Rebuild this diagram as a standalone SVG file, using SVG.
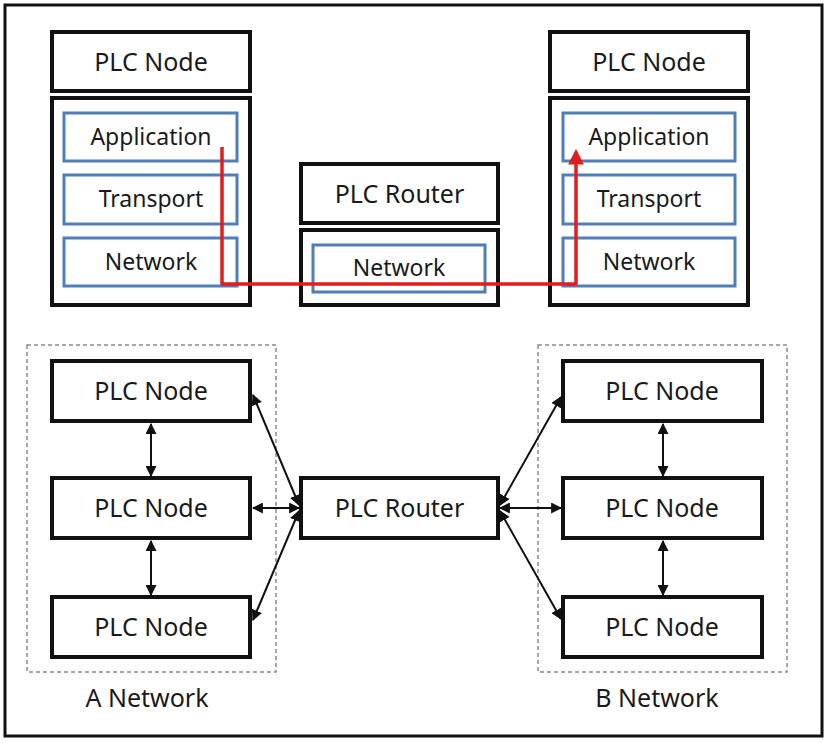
<svg xmlns="http://www.w3.org/2000/svg" width="827" height="743" viewBox="0 0 827 743">
<style>
.box{fill:#fff;stroke:#111;stroke-width:4}
.layer{fill:#fff;stroke:#4f7fb8;stroke-width:3}
.t{font-family:"Noto Sans","Open Sans",sans-serif;font-size:25px;fill:#1a1a1a;text-anchor:middle}
.tl{font-family:"Noto Sans","Open Sans",sans-serif;font-size:23px;fill:#1a1a1a;text-anchor:middle}
.dash{fill:none;stroke:#8a8a8a;stroke-width:1.5;stroke-dasharray:4 3}
.c{fill:none;stroke:#111;stroke-width:2;marker-start:url(#ah);marker-end:url(#ah)}
</style>
<defs>
<marker id="ah" viewBox="0 0 10 10" refX="9" refY="5" markerWidth="5.5" markerHeight="5.5" orient="auto-start-reverse">
<path d="M0,0 L10,5 L0,10 Z" fill="#111"/>
</marker>
<marker id="rh" viewBox="0 0 10 10" refX="8" refY="5" markerWidth="4.5" markerHeight="4.5" orient="auto">
<path d="M0,0 L10,5 L0,10 Z" fill="#e01e1e"/>
</marker>
</defs>
<rect x="0" y="0" width="827" height="743" fill="#fff"/>
<rect x="5" y="5" width="817" height="731" fill="none" stroke="#111" stroke-width="3"/>

<g id="top-node-left">
<rect class="box" x="52" y="32" width="198" height="59"/>
<text class="t" x="151" y="71">PLC Node</text>
<rect class="box" x="52" y="98" width="198" height="207"/>
<rect class="layer" x="64" y="113" width="173" height="48"/>
<text class="tl" x="151" y="145">Application</text>
<rect class="layer" x="64" y="175" width="173" height="49"/>
<text class="tl" x="151" y="207">Transport</text>
<rect class="layer" x="64" y="238" width="173" height="48"/>
<text class="tl" x="151" y="270">Network</text>
</g>

<g id="top-router">
<rect class="box" x="301" y="164" width="197" height="59"/>
<text class="t" x="399.5" y="203">PLC Router</text>
<rect class="box" x="301" y="230" width="197" height="75"/>
<rect class="layer" x="313" y="245" width="172" height="47"/>
<text class="tl" x="399" y="276">Network</text>
</g>

<g id="top-node-right">
<rect class="box" x="550" y="32" width="198" height="59"/>
<text class="t" x="649" y="71">PLC Node</text>
<rect class="box" x="550" y="98" width="198" height="207"/>
<rect class="layer" x="563" y="113" width="172" height="48"/>
<text class="tl" x="649" y="145">Application</text>
<rect class="layer" x="563" y="175" width="172" height="49"/>
<text class="tl" x="649" y="207">Transport</text>
<rect class="layer" x="563" y="238" width="172" height="48"/>
<text class="tl" x="649" y="270">Network</text>
</g>

<g id="a-network">
<rect class="dash" x="27" y="345" width="249" height="327"/>
<text class="t" x="147" y="707">A Network</text>
</g>
<g id="b-network">
<rect class="dash" x="538" y="345" width="249" height="327"/>
<text class="t" x="657" y="707">B Network</text>
</g>

<g id="a-node1"><rect class="box" x="52" y="361" width="198" height="60"/><text class="t" x="151" y="400">PLC Node</text></g>
<g id="a-node2"><rect class="box" x="52" y="478" width="198" height="60"/><text class="t" x="151" y="517">PLC Node</text></g>
<g id="a-node3"><rect class="box" x="52" y="597" width="198" height="60"/><text class="t" x="151" y="636">PLC Node</text></g>

<g id="router"><rect class="box" x="301" y="478" width="197" height="60"/><text class="t" x="399.5" y="517">PLC Router</text></g>

<g id="b-node1"><rect class="box" x="563" y="361" width="199" height="60"/><text class="t" x="662" y="400">PLC Node</text></g>
<g id="b-node2"><rect class="box" x="563" y="478" width="199" height="60"/><text class="t" x="662" y="517">PLC Node</text></g>
<g id="b-node3"><rect class="box" x="563" y="597" width="199" height="60"/><text class="t" x="662" y="636">PLC Node</text></g>

<g id="connectors">
<polyline points="222,147 222,284 576,284 576,152" fill="none" stroke="#e01e1e" stroke-width="3.5" stroke-linejoin="round" marker-end="url(#rh)"/>
<line class="c" x1="151" y1="424" x2="151" y2="476"/>
<line class="c" x1="151" y1="541" x2="151" y2="595"/>
<line class="c" x1="663" y1="424" x2="663" y2="476"/>
<line class="c" x1="663" y1="541" x2="663" y2="595"/>
<line class="c" x1="253" y1="395" x2="299" y2="505"/>
<line class="c" x1="253" y1="508" x2="299" y2="508"/>
<line class="c" x1="253" y1="620" x2="299" y2="511"/>
<line class="c" x1="500" y1="505" x2="561" y2="397"/>
<line class="c" x1="500" y1="508" x2="561" y2="508"/>
<line class="c" x1="500" y1="511" x2="561" y2="619"/>
</g>
</svg>
